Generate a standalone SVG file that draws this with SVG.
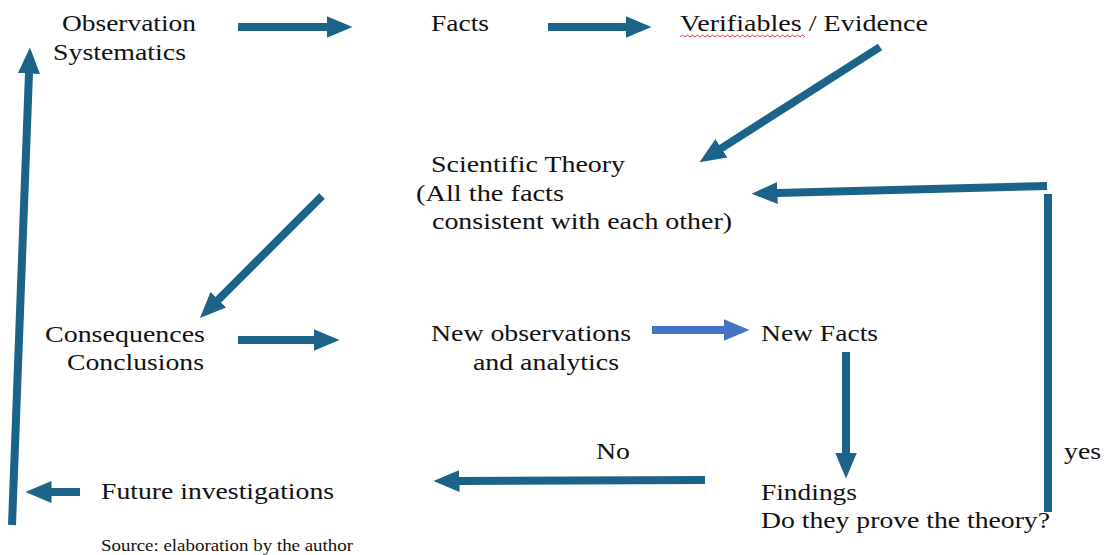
<svg xmlns="http://www.w3.org/2000/svg" width="1104" height="555" viewBox="0 0 1104 555">
<style>
.t{font-family:"Liberation Serif","Times New Roman",serif;font-size:24px;fill:#111;}
.s{font-family:"Liberation Serif","Times New Roman",serif;font-size:16px;fill:#111;}
.c{fill:none;stroke:#1b6388;stroke-width:8;}
.b{fill:none;stroke:#4472c4;stroke-width:8;}
</style>
<defs>
<marker id="h" markerUnits="userSpaceOnUse" markerWidth="26" markerHeight="24" viewBox="0 0 26 24" refX="0.5" refY="12" orient="auto"><path d="M0,1 L26,12 L0,23 z" fill="#1b6388"/></marker>
<marker id="hb" markerUnits="userSpaceOnUse" markerWidth="26" markerHeight="24" viewBox="0 0 26 24" refX="0.5" refY="12" orient="auto"><path d="M0,1 L26,12 L0,23 z" fill="#4472c4"/></marker>
</defs>
<rect width="1104" height="555" fill="#fff"/>
<g id="connectors">
<path class="c" d="M238,27 L327,27" marker-end="url(#h)"/>
<path class="c" d="M548,27 L626,27" marker-end="url(#h)"/>
<path class="c" d="M880,47 L721,148.5" marker-end="url(#h)"/>
<path class="c" d="M1048,512 L1048,194"/>
<path class="c" d="M1047,186 L777,193" marker-end="url(#h)"/>
<path class="c" d="M322,196 L218,300" marker-end="url(#h)"/>
<path class="c" d="M238,340 L314,340" marker-end="url(#h)"/>
<path class="b" d="M652,330 L724,330" marker-end="url(#hb)"/>
<path class="c" d="M846,352 L846,453" marker-end="url(#h)"/>
<path class="c" d="M705,480 L459,481" marker-end="url(#h)"/>
<path class="c" d="M80,492 L51,492" marker-end="url(#h)"/>
<path class="c" d="M12,525 L29,73" marker-end="url(#h)"/>
</g>
<g id="observation"><text class="t" x="62" y="31" textLength="134" lengthAdjust="spacingAndGlyphs">Observation</text><text class="t" x="53" y="60" textLength="133" lengthAdjust="spacingAndGlyphs">Systematics</text></g>
<g id="facts"><text class="t" x="431" y="31" textLength="58" lengthAdjust="spacingAndGlyphs">Facts</text></g>
<g id="verifiables"><text class="t" x="680" y="31" textLength="248" lengthAdjust="spacingAndGlyphs">Verifiables / Evidence</text><path d="M680,37 l2.5,-2 l2.5,2 l2.5,-2 l2.5,2 l2.5,-2 l2.5,2 l2.5,-2 l2.5,2 l2.5,-2 l2.5,2 l2.5,-2 l2.5,2 l2.5,-2 l2.5,2 l2.5,-2 l2.5,2 l2.5,-2 l2.5,2 l2.5,-2 l2.5,2 l2.5,-2 l2.5,2 l2.5,-2 l2.5,2 l2.5,-2 l2.5,2 l2.5,-2 l2.5,2 l2.5,-2 l2.5,2 l2.5,-2 l2.5,2 l2.5,-2 l2.5,2 l2.5,-2 l2.5,2 l2.5,-2 l2.5,2 l2.5,-2 l2.5,2 l2.5,-2 l2.5,2 l2.5,-2 l2.5,2 l2.5,-2 l2.5,2 l2.5,-2 l2.5,2 l2.5,-2 l2.5,2" fill="none" stroke="#e03030" stroke-width="1"/></g>
<g id="theory"><text class="t" x="431" y="172" textLength="194" lengthAdjust="spacingAndGlyphs">Scientific Theory</text><text class="t" x="416" y="201" textLength="148" lengthAdjust="spacingAndGlyphs">(All the facts</text><text class="t" x="432" y="229" textLength="300" lengthAdjust="spacingAndGlyphs">consistent with each other)</text></g>
<g id="consequences"><text class="t" x="45" y="342" textLength="160" lengthAdjust="spacingAndGlyphs">Consequences</text><text class="t" x="67" y="370" textLength="137" lengthAdjust="spacingAndGlyphs">Conclusions</text></g>
<g id="newobs"><text class="t" x="431" y="341" textLength="200" lengthAdjust="spacingAndGlyphs">New observations</text><text class="t" x="473" y="370" textLength="146" lengthAdjust="spacingAndGlyphs">and analytics</text></g>
<g id="newfacts"><text class="t" x="761" y="341" textLength="117" lengthAdjust="spacingAndGlyphs">New Facts</text></g>
<g id="findings"><text class="t" x="761" y="500" textLength="96" lengthAdjust="spacingAndGlyphs">Findings</text><text class="t" x="761" y="528" textLength="289" lengthAdjust="spacingAndGlyphs">Do they prove the theory?</text></g>
<g id="future"><text class="t" x="101" y="499" textLength="233" lengthAdjust="spacingAndGlyphs">Future investigations</text></g>
<g id="labels"><text class="t" x="596" y="459" textLength="34" lengthAdjust="spacingAndGlyphs">No</text><text class="t" x="1064" y="459" textLength="37" lengthAdjust="spacingAndGlyphs">yes</text></g>
<g id="source"><text class="s" x="101" y="551" textLength="252" lengthAdjust="spacingAndGlyphs">Source: elaboration by the author</text></g>
</svg>
